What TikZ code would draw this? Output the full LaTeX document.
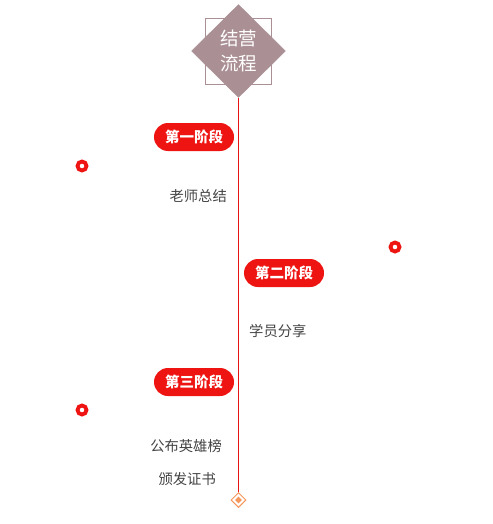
\documentclass[tikz,border=0pt]{standalone}
\usepackage{fontspec}
\setmainfont{Noto Sans CJK SC}
\usetikzlibrary{shapes.geometric, positioning}
\definecolor{StageRed}{RGB}{238, 20, 18}
\definecolor{LineRed}{RGB}{230, 20, 20}
\definecolor{Mauve}{RGB}{170, 144, 148}
\definecolor{TextGrey}{RGB}{68, 68, 68}
\definecolor{EndOrange}{RGB}{245, 150, 90}

\begin{document}
\begin{tikzpicture}[
    x=1pt, y=-1pt,
    titlebox/.style={draw=Mauve, fill=Mauve, diamond, inner sep=0pt, minimum width=94pt, minimum height=93pt, align=center, text=white, font=\fontsize{18.5}{25}\selectfont},
    frame/.style={draw=Mauve, rectangle, minimum size=66pt, line width=0.8pt},
    stage/.style={rectangle, rounded corners=14pt, fill=StageRed, text=white, minimum width=80pt, minimum height=28pt, inner sep=0pt, font=\fontsize{14.5}{16}\selectfont\bfseries},
    item/.style={text=TextGrey, inner sep=0pt, font=\fontsize{14.3}{16}\selectfont},
    ring/.style={circle, draw=StageRed, fill=white, line width=3.8pt, minimum size=9pt, inner sep=0pt},
    spine/.style={draw=LineRed, line width=1pt}
]
\useasboundingbox (0,0) rectangle (492,524);
\node[frame] (box) at (238.5,51) {};
\node[titlebox] (title) at (238.5,51) {结营\\流程};
\node[diamond, draw=EndOrange, fill=white, line width=1pt, minimum size=15pt, inner sep=0pt] (enddia) at (238.5,500) {};
\node[diamond, fill=EndOrange, minimum size=7pt, inner sep=0pt] (enddot) at (enddia) {};
\draw[spine] (title) -- (enddia);
% stages
\node[stage] (s1) at (194,137) {第一阶段};
\node[stage] (s2) at (284,273) {第二阶段};
\node[stage] (s3) at (194,382) {第三阶段};
% items
\node[item, anchor=east] (t1) at (227,196) {老师总结};
\node[item, anchor=west] (t2) at (249,331) {学员分享};
\node[item, anchor=east] (t3) at (222,446) {公布英雄榜};
\node[item, anchor=east] (t4) at (216,479) {颁发证书};
% dots
\node[ring] (d1) at (82,166) {};
\node[ring] (d2) at (395,247) {};
\node[ring] (d3) at (82,410) {};
\end{tikzpicture}
\end{document}
